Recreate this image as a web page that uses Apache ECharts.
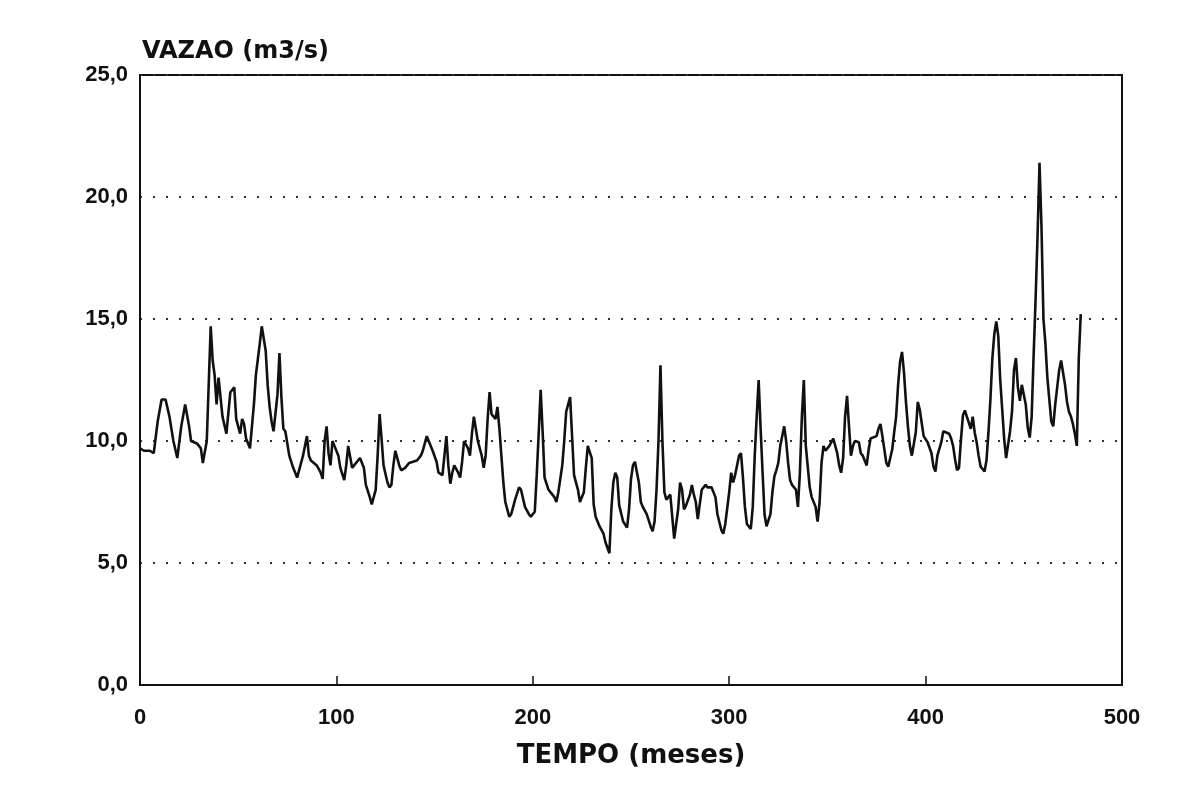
<!DOCTYPE html>
<html><head><meta charset="utf-8">
<script src="https://cdn.jsdelivr.net/npm/echarts@6/dist/echarts.min.js"></script>
<style>html,body{margin:0;padding:0;background:#fff}#c{width:1195px;height:803px}</style>
</head><body><div id="c"></div>
<script>
const xTicks = [0, 100, 200, 300, 400, 500];
const yTicks = [0, 5, 10, 15, 20, 25];
const months = [
0,2,5,7,9,11,13,15,17,19,21,23,25,26,29,31,32,34,36,37,38,39,40,41,42,44,46,48,
49,51,52,53,54,56,57,58,59,61,62,64,65,66,67,68,70,71,72,73,74,76,78,80,81,83,85,86,87,90,92,93,94,95,96,
97,98,99,101,102,104,105,106,108,109,111,112,114,115,117,118,120,121,122,123,124,126,127,128,129,130,132,133,135,137,139,141,143,144,
146,147,149,151,152,154,155,156,157,158,159,160,162,163,164,165,167,168,169,170,171,172,174,175,176,177,178,179,181,182,183,184,185,186,188,189,191,193,
194,196,198,199,201,202,203,204,205,206,208,210,211,212,213,215,216,217,219,220,221,223,224,226,227,228,230,231,232,234,236,237,239,240,241,
242,243,244,246,248,249,250,251,252,254,255,256,258,260,261,262,263,264,265,266,267,268,270,271,272,274,275,276,277,278,280,281,282,283,284,285,286,288,289,
291,293,294,296,297,298,300,301,302,303,305,306,307,308,309,311,312,313,314,315,316,317,318,319,321,322,323,324,325,326,328,329,330,331,332,334,335,336,337,338,
339,341,342,343,344,345,346,347,348,349,351,352,353,355,356,357,358,359,360,361,362,363,364,366,367,368,370,371,372,373,375,376,377,378,379,380,381,383,384,385,386,387,388,389,390,391,392,393,395,396,397,398,399,401,402,403,404,405,406,408,409,410,412,413,414,415,416,417,418,419,420,421,422,423,424,425,426,427,428,430,431,432,433,434,435,436,437,438,439,440,441,443,444,445,446,447,448,449,450,451,452,453,454,455,456,457,458,459,460,461,462,463,464,465,466,467,468,469,470,471,472,473,474,475,476,477,478,479
];
const flow = [
9.7,9.6,9.6,9.5,10.8,11.7,11.7,11.0,10.0,9.3,10.6,11.5,10.6,10.0,9.9,9.7,9.1,10.0,14.7,13.3,12.7,11.5,12.6,11.8,11.0,10.3,12.0,12.2,
10.9,10.3,10.9,10.7,10.1,9.7,10.6,11.5,12.7,14.0,14.7,13.7,12.3,11.4,10.8,10.4,11.9,13.6,11.8,10.5,10.4,9.4,8.9,8.5,8.5,9.4,10.2,9.4,9.2,9.0,8.7,8.45,10.0,10.6,9.5,
9.0,10.0,9.8,9.4,8.9,8.4,9.0,9.8,8.9,9.0,9.2,9.3,8.9,8.2,7.7,7.4,8.0,9.4,11.1,10.1,9.0,8.3,8.1,8.2,9.0,9.6,9.0,8.8,8.9,9.1,9.15,9.2,9.4,9.6,
10.2,10.0,9.6,9.15,8.7,8.6,9.4,10.2,9.0,8.25,8.7,9.0,8.7,8.5,9.15,10.0,9.7,9.4,10.3,11.0,10.5,10.0,9.4,8.9,9.4,10.9,12.0,11.1,10.9,11.4,10.5,9.4,8.3,7.5,6.9,7.0,7.6,8.1,
8.0,7.3,7.0,6.9,7.1,8.6,10.3,12.1,10.4,8.5,8.0,7.8,7.7,7.5,7.9,9.0,10.0,11.2,11.8,10.2,8.6,8.0,7.5,7.9,8.9,9.8,9.3,7.4,6.9,6.5,6.2,5.85,5.4,7.2,8.3,
8.7,8.5,7.35,6.7,6.45,7.2,8.45,9.0,9.15,8.3,7.5,7.3,7.0,6.5,6.3,6.7,8.0,10.0,13.1,10.0,7.9,7.6,7.8,6.9,6.0,7.2,8.3,8.0,7.2,7.35,7.8,8.2,7.8,7.5,6.8,7.4,8.0,8.2,8.1,
8.1,7.7,7.0,6.35,6.2,6.6,7.9,8.7,8.3,8.6,9.4,9.5,8.5,7.3,6.6,6.4,7.3,9.4,11.0,12.5,10.5,8.7,7.0,6.5,7.0,7.9,8.55,8.8,9.1,9.8,10.6,10.0,9.1,8.4,8.2,8.0,7.3,8.7,11.0,12.5,
9.8,8.1,7.7,7.65,7.3,6.7,7.45,9.1,9.8,9.6,9.8,9.95,10.1,9.5,9.0,8.7,9.3,11.0,11.85,10.6,9.4,9.8,10.0,9.95,9.5,9.4,9.0,9.65,10.1,10.1,10.2,10.5,10.7,10.2,9.65,9.1,8.95,9.65,10.35,11.0,12.3,13.25,13.65,12.8,11.6,10.6,9.8,9.4,10.35,11.6,11.3,10.75,10.2,9.95,9.9,9.5,8.95,8.75,9.4,9.95,10.4,10.4,10.3,10.1,9.8,9.25,8.8,8.9,10.05,11.05,11.25,11.0,10.75,10.5,11.0,10.35,9.95,9.4,8.95,8.75,9.2,10.35,11.7,13.4,14.4,14.9,14.3,12.5,11.3,10.1,9.3,10.4,11.2,12.9,13.4,12.2,11.65,12.3,11.9,11.5,10.55,10.14,11.0,13.5,15.8,18.4,21.4,18.8,15.0,14.0,12.6,11.7,10.8,10.6,11.5,12.2,12.9,13.3,12.8,12.3,11.6,11.2,11.0,10.7,10.3,9.8,13.4,15.2
];
const chart = echarts.init(document.getElementById('c'));
const font = '"Liberation Sans", Arial, sans-serif';
const nameFont = '"DejaVu Sans", sans-serif';
chart.setOption({
  backgroundColor: '#ffffff',
  animation: false,
  grid: { left: 140, right: 73, top: 75, bottom: 118, show: true, borderColor: '#111', borderWidth: 2, backgroundColor: 'transparent' },
  xAxis: {
    type: 'value', min: xTicks[0], max: xTicks[xTicks.length - 1], interval: 100,
    name: 'TEMPO (meses)', nameLocation: 'middle', nameGap: 58,
    nameTextStyle: { fontFamily: nameFont, fontWeight: 'bold', fontSize: 26, color: '#111' },
    axisLine: { show: true, lineStyle: { color: '#111', width: 2 } },
    axisTick: { show: true, inside: true, length: 9, lineStyle: { color: '#111', width: 1.5 } },
    axisLabel: { fontFamily: font, fontWeight: 'bold', fontSize: 22, color: '#111', margin: 22 },
    splitLine: { show: false }
  },
  yAxis: {
    type: 'value', min: yTicks[0], max: yTicks[yTicks.length - 1], interval: 5,
    name: 'VAZAO (m3/s)', nameLocation: 'end', nameGap: 11,
    nameTextStyle: { fontFamily: nameFont, fontWeight: 'bold', fontSize: 24, color: '#111', align: 'left', padding: [0, 0, 0, 2] },
    axisLine: { show: true, lineStyle: { color: '#111', width: 2 } },
    axisTick: { show: false },
    axisLabel: { fontFamily: font, fontWeight: 'bold', fontSize: 22, color: '#111', margin: 12,
      formatter: v => v.toFixed(1).replace('.', ',') },
    splitLine: { show: true, lineStyle: { color: '#333', width: 2, type: [2, 11] } }
  },
  series: [{
    type: 'line', showSymbol: false, symbol: 'none',
    data: months.map((m, i) => [m, flow[i]]),
    lineStyle: { color: '#111', width: 2.6 },
    z: 5
  }]
});
</script></body></html>
